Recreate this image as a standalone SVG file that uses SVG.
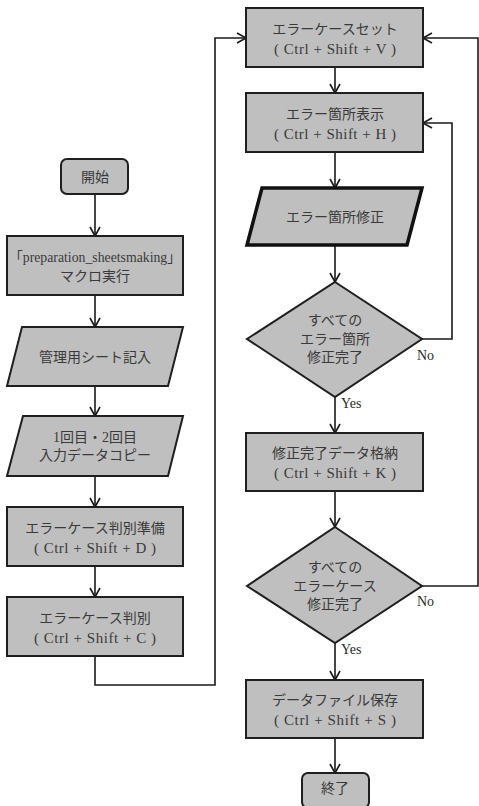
<svg xmlns="http://www.w3.org/2000/svg" width="479" height="806" viewBox="0 0 479 806">
<defs>
<marker id="arr" markerWidth="12" markerHeight="12" refX="10" refY="6" orient="auto" markerUnits="userSpaceOnUse">
<path d="M1,1 L10,6 L1,11" fill="none" stroke="#1a1a1a" stroke-width="1.6"/>
</marker>
<style>
.box{fill:#bfbfbf;stroke:#1f1f1f;stroke-width:2}
.thick{fill:#bfbfbf;stroke:#111;stroke-width:3.5}
.t{font-family:"Liberation Serif","Noto Sans CJK JP",serif;font-size:14px;fill:#3a3a3a;text-anchor:middle}
.k{font-family:"Liberation Serif","Noto Sans CJK JP",serif;font-size:15px;fill:#3a3a3a;text-anchor:middle}
.lbl{font-family:"Liberation Serif","Noto Sans CJK JP",serif;font-size:14px;fill:#2a2a2a}
.c{fill:none;stroke:#1a1a1a;stroke-width:1.6}
</style>
</defs>
<rect width="479" height="806" fill="#ffffff"/>

<g id="connectors">
<path class="c" d="M95,194 V236" marker-end="url(#arr)"/>
<path class="c" d="M95,295 V327" marker-end="url(#arr)"/>
<path class="c" d="M95,386 V416" marker-end="url(#arr)"/>
<path class="c" d="M95,476 V507" marker-end="url(#arr)"/>
<path class="c" d="M95,566 V597" marker-end="url(#arr)"/>
<path class="c" d="M95,656 V685 H215 V38 H246" marker-end="url(#arr)"/>
<path class="c" d="M335,67 V93" marker-end="url(#arr)"/>
<path class="c" d="M335,152 V188" marker-end="url(#arr)"/>
<path class="c" d="M335,245 V282" marker-end="url(#arr)"/>
<path class="c" d="M422,339 H452 V123 H423" marker-end="url(#arr)"/>
<path class="c" d="M335,397 V433" marker-end="url(#arr)"/>
<path class="c" d="M335,491 V527" marker-end="url(#arr)"/>
<path class="c" d="M422,586 H478 V38 H423" marker-end="url(#arr)"/>
<path class="c" d="M335,643 V680" marker-end="url(#arr)"/>
<path class="c" d="M335,738 V773" marker-end="url(#arr)"/>
<text class="lbl" x="417" y="360">No</text>
<text class="lbl" x="341" y="408">Yes</text>
<text class="lbl" x="417" y="606">No</text>
<text class="lbl" x="341" y="654">Yes</text>
</g>

<g id="start">
<rect class="box" x="61" y="159" width="67" height="35" rx="6"/>
<text class="t" x="95" y="182">開始</text>
</g>

<g id="macro">
<rect class="box" x="7" y="236" width="176" height="59"/>
<text class="t" x="95" y="262" textLength="172" lengthAdjust="spacingAndGlyphs">「preparation_sheetsmaking」</text>
<text class="t" x="95" y="281">マクロ実行</text>
</g>

<g id="sheet-entry">
<polygon class="box" points="22,327 183,327 168,386 7,386"/>
<text class="t" x="95" y="362">管理用シート記入</text>
</g>

<g id="data-copy">
<polygon class="box" points="23,416 183,416 168,476 7,476"/>
<text class="t" x="95" y="442">1回目・2回目</text>
<text class="t" x="95" y="460">入力データコピー</text>
</g>

<g id="prep">
<rect class="box" x="7" y="507" width="176" height="59"/>
<text class="t" x="95" y="533">エラーケース判別準備</text>
<text class="k" x="95" y="553" textLength="122" lengthAdjust="spacing">( Ctrl + Shift + D )</text>
</g>

<g id="judge">
<rect class="box" x="7" y="597" width="176" height="59"/>
<text class="t" x="95" y="623">エラーケース判別</text>
<text class="k" x="95" y="643" textLength="122" lengthAdjust="spacing">( Ctrl + Shift + C )</text>
</g>

<g id="case-set">
<rect class="box" x="246" y="8" width="177" height="59"/>
<text class="t" x="335" y="34">エラーケースセット</text>
<text class="k" x="335" y="54" textLength="122" lengthAdjust="spacing">( Ctrl + Shift + V )</text>
</g>

<g id="show-error">
<rect class="box" x="246" y="93" width="177" height="59"/>
<text class="t" x="335" y="119">エラー箇所表示</text>
<text class="k" x="335" y="139" textLength="122" lengthAdjust="spacing">( Ctrl + Shift + H )</text>
</g>

<g id="fix-error">
<polygon class="thick" points="262,188 422,188 407,245 247,245"/>
<text class="t" x="335" y="222">エラー箇所修正</text>
</g>

<g id="decision1">
<polygon class="box" points="335,282 422,339 335,397 247,339"/>
<text class="t" x="335" y="325">すべての</text>
<text class="t" x="335" y="344">エラー箇所</text>
<text class="t" x="335" y="362">修正完了</text>
</g>

<g id="store">
<rect class="box" x="246" y="433" width="177" height="58"/>
<text class="t" x="335" y="458">修正完了データ格納</text>
<text class="k" x="335" y="478" textLength="122" lengthAdjust="spacing">( Ctrl + Shift + K )</text>
</g>

<g id="decision2">
<polygon class="box" points="335,527 422,586 335,643 247,586"/>
<text class="t" x="335" y="572">すべての</text>
<text class="t" x="335" y="591">エラーケース</text>
<text class="t" x="335" y="609">修正完了</text>
</g>

<g id="save">
<rect class="box" x="246" y="680" width="177" height="58"/>
<text class="t" x="335" y="705">データファイル保存</text>
<text class="k" x="335" y="725" textLength="122" lengthAdjust="spacing">( Ctrl + Shift + S )</text>
</g>

<g id="end">
<rect class="box" x="302" y="773" width="67" height="35" rx="6"/>
<text class="t" x="335" y="793">終了</text>
</g>
</svg>
